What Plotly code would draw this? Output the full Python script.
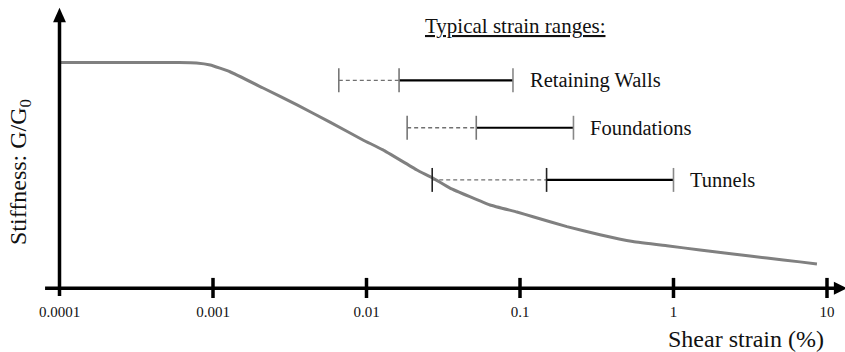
import numpy as np
import plotly.graph_objects as go

# ---- data ----
strain = [0.0001, 0.0003, 0.0006, 0.00078, 0.00096, 0.00129, 0.00212, 0.00353, 0.00578, 0.00948,
          0.0128, 0.0213, 0.0271, 0.035, 0.0638, 0.0955, 0.1216, 0.2023, 0.332,
          0.544, 0.906, 1.49, 2.44, 4.06, 6.66, 8.6]
stiffness = [1.0, 1.0, 1.0, 0.998, 0.989, 0.959, 0.887, 0.812, 0.736, 0.657,
             0.613, 0.524, 0.488, 0.444, 0.369, 0.338, 0.317, 0.273, 0.237,
             0.207, 0.188, 0.170, 0.152, 0.134, 0.117, 0.108]

range_names = ["Retaining Walls", "Foundations", "Tunnels"]
range_low = [0.0066, 0.0184, 0.0268]      # start of dashed part
range_mid = [0.0163, 0.0519, 0.149]       # start of solid part
range_high = [0.090, 0.223, 1.0]          # end of solid part
range_level = [0.921, 0.711, 0.480]       # vertical placement (G/G0 units)

tick_vals = [0.0001, 0.001, 0.01, 0.1, 1, 10]
tick_text = ["0.0001", "0.001", "0.01", "0.1", "1", "10"]

# ---- figure ----
FONT = "Liberation Serif, Times New Roman, serif"
TXT = "#111111"
fig = go.Figure()

lx = np.log10(strain)
fig.add_trace(go.Scatter(x=lx, y=stiffness, mode="lines",
                         line=dict(color="#808080", width=3, shape="spline", smoothing=0.35),
                         hoverinfo="skip", showlegend=False))

shapes = []
for i, name in enumerate(range_names):
    a, b, c = np.log10([range_low[i], range_mid[i], range_high[i]])
    y = range_level[i]
    fig.add_trace(go.Scatter(x=[a, b], y=[y, y], mode="lines",
                             line=dict(color="#707070", width=1.3, dash="4px,3px"),
                             hoverinfo="skip", showlegend=False))
    fig.add_trace(go.Scatter(x=[b, c], y=[y, y], mode="lines",
                             line=dict(color="#000000", width=2.2),
                             hoverinfo="skip", showlegend=False))
    endcol = "#222222" if i == 2 else "#777777"
    for xx, col in ((a, endcol), (b, endcol), (c, "#888888")):
        shapes.append(dict(type="line", xref="x", yref="y", x0=xx, x1=xx,
                           y0=y - 0.053, y1=y + 0.053,
                           line=dict(color=col, width=1.6)))
    fig.add_annotation(x=c, y=y, xref="x", yref="y", text=name, showarrow=False,
                       xanchor="left", yanchor="middle", xshift=15,
                       font=dict(family=FONT, size=20.5, color=TXT))

# axes drawn as lines with arrows
x_left = np.log10(tick_vals[0])
shapes.append(dict(type="line", xref="x", yref="y", x0=x_left, x1=x_left,
                   y0=-0.034, y1=1.19, line=dict(color="black", width=3.5)))
shapes.append(dict(type="path", xref="x", yref="y",
                   path=f"M {x_left-0.042},1.178 L {x_left},1.243 L {x_left+0.042},1.178 Z",
                   fillcolor="black", line=dict(color="black", width=0)))
shapes.append(dict(type="line", xref="x", yref="y", x0=-4.094, x1=1.06,
                   y0=0, y1=0, line=dict(color="black", width=3.5)))
shapes.append(dict(type="path", xref="x", yref="y",
                   path="M 1.045,-0.029 L 1.13,0 L 1.045,0.029 Z",
                   fillcolor="black", line=dict(color="black", width=0)))
for tv in tick_vals[1:]:
    t = np.log10(tv)
    shapes.append(dict(type="line", xref="x", yref="y", x0=t, x1=t,
                       y0=-0.043, y1=0.046, line=dict(color="black", width=3.5)))

fig.add_trace(go.Scatter(x=np.log10(tick_vals), y=[-0.109] * len(tick_vals),
                         mode="text", text=tick_text, textposition="middle center",
                         textfont=dict(family=FONT, size=15, color=TXT),
                         hoverinfo="skip", showlegend=False))

fig.add_annotation(x=0.978, y=1 - 339 / 352, xref="paper", yref="paper",
                   text="Shear strain (%)", showarrow=False,
                   xanchor="right", yanchor="middle",
                   font=dict(family=FONT, size=24, color=TXT))
fig.add_annotation(x=20 / 845, y=1 - 172 / 352, xref="paper", yref="paper",
                   text="Stiffness: G/G<sub>0</sub>", showarrow=False, textangle=-90,
                   xanchor="center", yanchor="middle",
                   font=dict(family=FONT, size=24, color=TXT))
fig.add_annotation(x=515 / 845, y=1 - 26 / 352, xref="paper", yref="paper",
                   text="<u>Typical strain ranges:</u>", showarrow=False,
                   xanchor="center", yanchor="middle",
                   font=dict(family=FONT, size=21, color=TXT))

fig.update_layout(
    width=845, height=352, margin=dict(l=0, r=0, t=0, b=0),
    paper_bgcolor="white", plot_bgcolor="white",
    xaxis=dict(range=[-4.3876, 1.1173], visible=False, fixedrange=True),
    yaxis=dict(range=[-0.2821, 1.2768], visible=False, fixedrange=True),
    shapes=shapes, showlegend=False,
)
fig.write_html("out.html")
